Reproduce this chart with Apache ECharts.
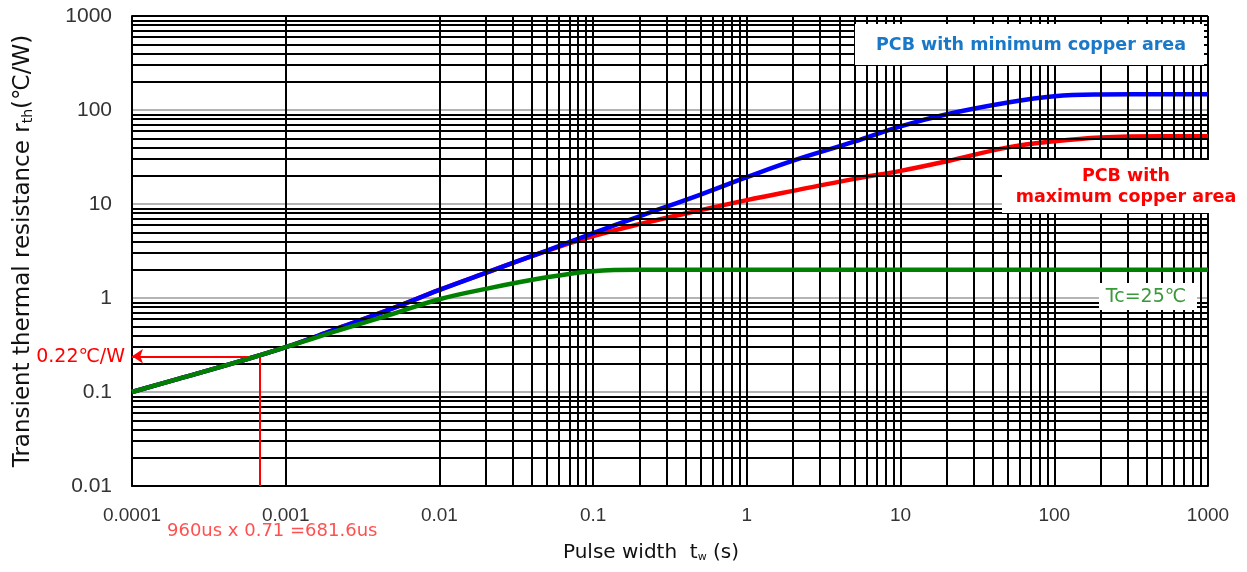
<!DOCTYPE html>
<html><head><meta charset="utf-8">
<script src="https://cdn.jsdelivr.net/npm/echarts@6/dist/echarts.min.js"></script>
<style>html,body{margin:0;padding:0;background:#fff}#c{width:1247px;height:572px}</style>
</head><body><div id="c"></div>
<script>
// ---- data ----
const pulseWidth   = [0.0001,0.0002,0.0005,0.001,0.002,0.005,0.01,0.02,0.05,0.1,0.2,0.5,1,2,5,10,20,50,100,200,500,1000];
const rthMinCopper = [0.1,0.138,0.212,0.30,0.45,0.78,1.22,1.85,3.2,4.9,7.4,12.6,19.3,28.9,46,67,90,120,140,146,147,147];
const rthMaxCopper = [0.1,0.138,0.212,0.30,0.45,0.78,1.22,1.85,3.18,4.55,6.1,8.6,11,13.8,18.5,22.5,28.5,40,46.5,51,52.5,52.5];
const rthTc25      = [0.1,0.138,0.212,0.30,0.43,0.68,0.97,1.25,1.66,1.93,2.0,2.0,2.0,2.0,2.0,2.0,2.0,2.0,2.0,2.0,2.0,2.0];
const xTickLabels = ['0.0001','0.001','0.01','0.1','1','10','100','1000'];
const yTickLabels = ['0.01','0.1','1','10','100','1000'];
const xDecades = [0.0001,0.001,0.01,0.1,1,10,100];
const yDecades = [0.01,0.1,1,10,100];
const minorSteps = [2,3,4,5,6,7,8,9];
const annotPulse = 6.816e-4;   // 960us x 0.71
const annotRth = 0.24;
const annotRthLabel = '0.22℃/W';
const annotPulseLabel = '960us x 0.71 =681.6us';

const xMinor = [], yMinor = [];
xDecades.forEach(d => minorSteps.forEach(m => xMinor.push(d * m)));
yDecades.forEach(d => minorSteps.forEach(m => yMinor.push(d * m)));

const pairs = arr => pulseWidth.map((t, i) => [t, arr[i]]);
const chart = echarts.init(document.getElementById('c'), null, {renderer: 'canvas'});

chart.setOption({
  animation: false,
  backgroundColor: '#fff',
  grid: {left: 132, right: 39, top: 16, bottom: 86, containLabel: false},
  xAxis: {
    type: 'log', logBase: 10, min: 0.0001, max: 1000,
    axisLine: {show: true, onZero: false, lineStyle: {color: '#000', width: 2}},
    axisTick: {show: false},
    axisLabel: {margin: 20, fontFamily: 'Liberation Sans', fontSize: 19, color: '#333',
      formatter: v => xTickLabels[Math.round(Math.log10(v)) + 4]},
    splitLine: {show: true, lineStyle: {color: '#000', width: 2}},
    name: '{n|Pulse width  t}{s|w}{n| (s)}',
    nameLocation: 'middle', nameGap: 57,
    nameTextStyle: {padding: [0, 38, 0, 0], rich: {
      n: {fontFamily: 'DejaVu Sans', fontSize: 20, color: '#111'},
      s: {fontFamily: 'DejaVu Sans', fontSize: 11, color: '#111', padding: [9, 0, 0, 0]}
    }}
  },
  yAxis: {
    type: 'log', logBase: 10, min: 0.01, max: 1000,
    axisLine: {show: true, onZero: false, lineStyle: {color: '#000', width: 2}},
    axisTick: {show: false},
    axisLabel: {margin: 20, fontFamily: 'Liberation Sans', fontSize: 21, color: '#333',
      formatter: v => yTickLabels[Math.round(Math.log10(v)) + 2]},
    splitLine: {show: true, lineStyle: {color: '#b4b4b4', width: 2}},
    name: '{n|Transient thermal resistance r}{s|th}{n|(℃/W)}',
    nameLocation: 'middle', nameGap: 97, nameRotate: 90,
    nameTextStyle: {rich: {
      n: {fontFamily: 'DejaVu Sans', fontSize: 23, color: '#111'},
      s: {fontFamily: 'DejaVu Sans', fontSize: 14, color: '#111', padding: [9, 0, 0, 0]}
    }}
  },
  graphic: [
    {type: 'rect', z: 50, shape: {x: 855, y: 24, width: 349, height: 41}, style: {fill: '#fff'}},
    {type: 'text', z: 51, x: 1031, y: 45, style: {text: 'PCB with minimum copper area', fill: '#1a78c8', font: 'bold 17.5px "DejaVu Sans"', align: 'center', verticalAlign: 'middle'}},
    {type: 'rect', z: 50, shape: {x: 1002, y: 160, width: 245, height: 53}, style: {fill: '#fff'}},
    {type: 'text', z: 51, x: 1126, y: 187, style: {text: 'PCB with\nmaximum copper area', fill: '#ff0000', font: 'bold 17.5px "DejaVu Sans"', lineHeight: 21, align: 'center', verticalAlign: 'middle'}},
    {type: 'rect', z: 50, shape: {x: 1099, y: 283, width: 98, height: 27}, style: {fill: '#fff'}},
    {type: 'text', z: 51, x: 1146, y: 297, style: {text: 'Tc=25℃', fill: '#3a9a3a', font: '19px "DejaVu Sans", "Noto Sans CJK JP"', align: 'center', verticalAlign: 'middle'}},
    {type: 'text', z: 51, x: 125, y: 357, style: {text: annotRthLabel, fill: '#ff0000', font: '19px "DejaVu Sans", "Noto Sans CJK JP"', align: 'right', verticalAlign: 'middle'}},
    {type: 'text', z: 51, x: 167, y: 531, style: {text: annotPulseLabel, fill: '#ff5050', font: '18px "DejaVu Sans"', align: 'left', verticalAlign: 'middle'}}
  ],
  series: [
    {
      name: 'grid', type: 'line', data: [], z: 1, silent: true,
      markLine: {
        silent: true, symbol: 'none', animation: false, label: {show: false},
        lineStyle: {color: '#000', width: 2, type: 'solid'},
        data: xMinor.map(v => ({xAxis: v}))
          .concat(yMinor.map(v => ({yAxis: v})))
          .concat([{yAxis: 1000}])
      }
    },
    {name: 'PCB with maximum copper area', type: 'line', z: 3, data: pairs(rthMaxCopper), showSymbol: false, smooth: 0.4, lineStyle: {color: '#ff0000', width: 4.5}},
    {name: 'PCB with minimum copper area', type: 'line', z: 4, data: pairs(rthMinCopper), showSymbol: false, smooth: 0.4, lineStyle: {color: '#0000ff', width: 4.5}},
    {name: 'Tc=25℃', type: 'line', z: 5, data: pairs(rthTc25), showSymbol: false, smooth: 0.4, lineStyle: {color: '#008000', width: 4.5},
      markLine: {
        silent: true, animation: false, label: {show: false},
        lineStyle: {color: '#ff0000', width: 2, type: 'solid'},
        data: [
          [{coord: [annotPulse, annotRth], symbol: 'none'}, {coord: [0.0001, annotRth], symbol: 'arrow', symbolSize: 11}],
          [{coord: [annotPulse, 0.01], symbol: 'none'}, {coord: [annotPulse, annotRth], symbol: 'none'}]
        ]
      }
    }
  ]
});
</script></body></html>
